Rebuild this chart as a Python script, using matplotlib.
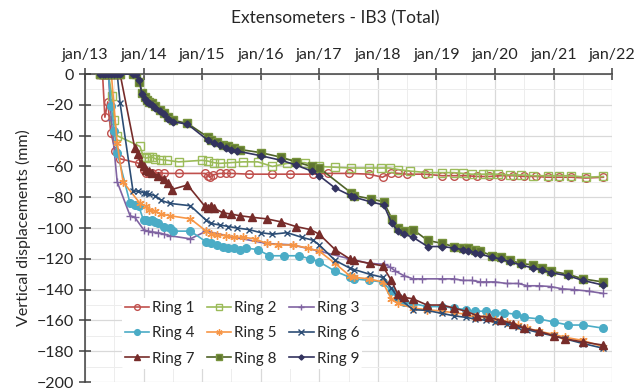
import matplotlib
matplotlib.use("Agg")
import matplotlib.pyplot as plt
from matplotlib.ticker import MultipleLocator, FixedLocator

plt.rcParams['font.family'] = ['Lato', 'DejaVu Sans']

Z8 = [2013.26, 2013.30, 2013.35, 2013.40, 2013.45, 2013.50, 2013.55, 2013.60]

# ---- data (decimal year, displacement mm) ----
r1_t = [2013.26, 2013.30, 2013.34, 2013.39, 2013.44, 2013.52, 2013.60, 2013.93, 2014.00, 2014.05, 2014.10, 2014.15,
        2014.25, 2014.35, 2014.60, 2015.05, 2015.10, 2015.13, 2015.18, 2015.30, 2015.40, 2015.50, 2015.80, 2016.20,
        2016.50, 2016.90, 2017.15, 2017.50, 2017.85, 2018.08, 2018.23, 2018.35, 2018.50, 2018.80, 2019.10, 2019.30,
        2019.50, 2019.70, 2019.90, 2020.10, 2020.30, 2020.50, 2020.70, 2020.90, 2021.10, 2021.30, 2021.55, 2021.85]
r1_v = [0, 0, -28, -18, -38, -50, -55, -58, -62, -64, -64, -64.5,
        -64, -64.5, -64.5, -64.5, -66, -67, -65.5, -64.5, -64.5, -64.5, -65, -65,
        -65, -65, -64.5, -64.5, -65, -67, -64, -64.5, -65, -65, -66, -66,
        -66, -66.5, -66.5, -66, -66, -66.5, -66.5, -67, -67, -67, -67.5, -67]

r2_t = [2013.26, 2013.30, 2013.35, 2013.40, 2013.46, 2013.50, 2013.55, 2013.94, 2014.00, 2014.05, 2014.10, 2014.15,
        2014.20, 2014.30, 2014.40, 2014.60, 2015.00, 2015.10, 2015.20, 2015.30, 2015.50, 2015.70, 2015.95, 2016.20,
        2016.45, 2016.75, 2017.00, 2017.27, 2017.55, 2017.85, 2018.05, 2018.20, 2018.35, 2018.55, 2018.85, 2019.10,
        2019.30, 2019.45, 2019.60, 2019.80, 2019.90, 2020.05, 2020.25, 2020.45, 2020.65, 2020.90, 2021.10, 2021.30,
        2021.55, 2021.85]
r2_v = [0, 0, 0, 0, -14, -30, -40, -47, -54, -54.5, -54, -54,
        -55, -55.5, -56, -57, -56, -56.5, -57.5, -58, -57.5, -57, -57, -60,
        -58, -57.5, -60, -60.5, -61, -61, -61, -61, -62, -63, -64, -64,
        -64, -64.5, -65, -65, -65, -65, -65.5, -65.5, -66, -66, -66, -66,
        -67, -66.5]

r3_t = [2013.26, 2013.30, 2013.35, 2013.40, 2013.45, 2013.55, 2013.77, 2013.85, 2014.00, 2014.07, 2014.15, 2014.25,
        2014.35, 2014.45, 2014.80, 2015.07, 2015.55, 2016.10, 2016.55, 2017.00, 2017.52, 2017.86, 2018.10, 2018.20,
        2018.30, 2018.45, 2018.60, 2018.75, 2019.10, 2019.30, 2019.45, 2019.60, 2019.75, 2019.85, 2020.00, 2020.20,
        2020.40, 2020.55, 2020.75, 2020.95, 2021.15, 2021.35, 2021.60, 2021.85]
r3_v = [0, 0, 0, 0, -30, -70, -92, -93, -101, -102, -102.5, -103,
        -104, -105, -107, -102, -106, -110, -111, -115, -120, -123, -123.5, -125,
        -128, -131, -133, -133, -133, -133, -134, -134, -135, -135, -135, -136,
        -136, -137.5, -137.5, -138, -139.5, -140, -141, -142.5]

r4_t = [2013.26, 2013.30, 2013.35, 2013.40, 2013.45, 2013.50, 2013.55, 2013.77, 2013.85, 2013.92, 2014.00, 2014.05,
        2014.10, 2014.15, 2014.20, 2014.25, 2014.35, 2014.45, 2014.50, 2014.80, 2015.07, 2015.15, 2015.25, 2015.35,
        2015.45, 2015.55, 2015.65, 2015.75, 2015.95, 2016.15, 2016.40, 2016.65, 2016.85, 2017.00, 2017.27, 2017.52,
        2017.60, 2017.85, 2018.08, 2018.23, 2018.34, 2018.45, 2018.60, 2018.84, 2019.10, 2019.30, 2019.50, 2019.65,
        2019.85, 2020.00, 2020.15, 2020.35, 2020.50, 2020.75, 2021.00, 2021.25, 2021.50, 2021.84]
r4_v = [0, 0, 0, 0, -21, -37, -51, -84, -85, -86, -95, -95,
        -95.5, -95, -96, -97, -99, -100, -102, -102, -109, -110, -111, -112,
        -113, -113, -114, -113, -114, -118, -118, -118, -120, -122, -128, -132,
        -133, -134, -135, -141, -146, -148, -149, -151, -151, -152, -153, -154,
        -154, -155, -155, -156, -158, -159, -161, -163, -163, -165]

r5_t = [2013.26, 2013.30, 2013.35, 2013.40, 2013.45, 2013.55, 2013.65, 2013.94, 2014.05, 2014.10, 2014.20, 2014.30,
        2014.45, 2014.80, 2015.07, 2015.15, 2015.25, 2015.40, 2015.55, 2015.70, 2015.90, 2016.10, 2016.30, 2016.55,
        2016.80, 2017.00, 2017.27, 2017.52, 2017.60, 2017.85, 2018.08, 2018.23, 2018.34, 2018.60, 2018.84, 2019.10,
        2019.30, 2019.50, 2019.65, 2019.85, 2020.00, 2020.20, 2020.40, 2020.55, 2020.75, 2021.00, 2021.20, 2021.50,
        2021.84]
r5_v = [0, 0, 0, 0, 0, -45, -70, -84, -86, -88, -89, -91,
        -92, -94, -102, -104, -104.5, -105, -106, -106, -107, -110, -111, -111,
        -113, -115, -123, -131, -132, -133, -135, -146, -149, -152, -153, -154,
        -155, -156, -158, -158, -160, -161, -163, -165, -167, -169, -171, -173,
        -177]

r6_t = [2013.26, 2013.30, 2013.35, 2013.40, 2013.45, 2013.50, 2013.55, 2013.60, 2013.82, 2013.90, 2014.00, 2014.05,
        2014.10, 2014.20, 2014.30, 2014.45, 2014.80, 2015.07, 2015.15, 2015.30, 2015.45, 2015.60, 2015.80, 2016.00,
        2016.20, 2016.45, 2016.70, 2016.90, 2017.00, 2017.27, 2017.52, 2017.60, 2017.86, 2018.08, 2018.23, 2018.34,
        2018.60, 2018.84, 2019.10, 2019.30, 2019.50, 2019.65, 2019.85, 2020.00, 2020.20, 2020.40, 2020.55, 2020.75,
        2021.00, 2021.20, 2021.50, 2021.84]
r6_v = [0, 0, 0, 0, 0, 0, 0, -19, -76, -76, -77, -77,
        -78, -79, -82, -84, -85.5, -95, -97, -98, -99, -100, -101, -103,
        -104, -103, -106, -108, -111, -121, -126, -127, -130, -132, -139, -145,
        -153, -153.5, -155.5, -157, -158, -159, -160, -161, -162, -164, -166, -168,
        -170, -172, -175, -178]

r7_t = [2013.26, 2013.30, 2013.35, 2013.40, 2013.45, 2013.50, 2013.55, 2013.60, 2013.85, 2013.90, 2013.95, 2014.00,
        2014.05, 2014.10, 2014.15, 2014.25, 2014.35, 2014.42, 2014.48, 2014.75, 2015.05, 2015.10, 2015.15, 2015.20,
        2015.35, 2015.50, 2015.65, 2015.85, 2016.10, 2016.35, 2016.60, 2016.85, 2017.00, 2017.27, 2017.52, 2017.60,
        2017.86, 2018.08, 2018.23, 2018.34, 2018.45, 2018.60, 2018.84, 2019.10, 2019.30, 2019.50, 2019.70, 2019.90,
        2020.10, 2020.30, 2020.50, 2020.75, 2021.00, 2021.20, 2021.50, 2021.84]
r7_v = [0, 0, 0, 0, 0, 0, 0, 0, -48, -52, -58, -60,
        -62, -63, -64, -66, -68, -71, -75, -72, -86, -87, -86, -87,
        -90, -91, -92, -93, -94, -96, -99, -101, -104, -114, -120, -121,
        -123, -124.5, -134, -143, -145, -146, -150, -150, -152, -154, -157, -158,
        -160, -162, -165, -167, -170, -172, -174, -176]

r8_t = Z8 + [2013.82, 2013.87, 2013.93, 2013.97, 2014.02, 2014.06, 2014.10, 2014.15, 2014.20, 2014.28, 2014.35, 2014.42,
        2014.50, 2014.75, 2015.10, 2015.15, 2015.25, 2015.35, 2015.45, 2015.55, 2015.65, 2016.00, 2016.35, 2016.60,
        2016.87, 2017.00, 2017.54, 2017.60, 2017.88, 2018.10, 2018.24, 2018.34, 2018.45, 2018.60, 2018.85, 2019.10,
        2019.30, 2019.45, 2019.54, 2019.65, 2019.75, 2019.95, 2020.10, 2020.25, 2020.45, 2020.65, 2020.80, 2020.95,
        2021.25, 2021.50, 2021.84]
r8_v = [0] * 8 + [0, 0, -5, -12, -15, -17, -18, -19, -21, -23, -25, -28,
        -30, -32, -41, -43, -44, -46, -47, -48, -49, -51, -54, -57,
        -60, -61, -77, -79, -81, -83, -94, -100, -102, -101, -108, -110,
        -112, -113, -113, -114, -115, -118, -119, -121, -123, -124, -126, -128,
        -130, -133, -135]

r9_t = Z8 + [2013.82, 2013.87, 2013.93, 2013.97, 2014.02, 2014.06, 2014.10, 2014.15, 2014.20, 2014.28, 2014.35, 2014.42,
        2014.50, 2014.75, 2015.10, 2015.20, 2015.30, 2015.40, 2015.50, 2015.60, 2016.00, 2016.35, 2016.60, 2016.87,
        2017.00, 2017.27, 2017.54, 2017.60, 2017.88, 2018.10, 2018.24, 2018.34, 2018.45, 2018.60, 2018.85, 2019.10,
        2019.30, 2019.45, 2019.54, 2019.65, 2019.75, 2019.95, 2020.10, 2020.25, 2020.45, 2020.65, 2020.80, 2020.95,
        2021.25, 2021.50, 2021.84]
r9_v = [0] * 8 + [0, 0, -4, -13, -16, -18, -19, -20, -22, -24, -26, -29,
        -31, -32.5, -43, -45, -46, -48, -49, -50, -53, -56, -59, -63,
        -66, -74, -79, -80, -83, -85, -97, -102, -104, -106, -112, -112,
        -113, -114, -115, -116, -117, -119, -120, -122, -124, -126, -127, -129,
        -131, -134, -137]

series = [
    ("Ring 1", r1_t, r1_v, dict(color="#C0504D", marker="o", mfc="none", mec="#C0504D", ms=5.5)),
    ("Ring 2", r2_t, r2_v, dict(color="#9BBB59", marker="s", mfc="none", mec="#9BBB59", ms=5.5)),
    ("Ring 3", r3_t, r3_v, dict(color="#8064A2", marker="+", ms=6, mew=1)),
    ("Ring 4", r4_t, r4_v, dict(color="#4BACC6", marker="o", mfc="#4BACC6", ms=5.5)),
    ("Ring 5", r5_t, r5_v, dict(color="#F79646", marker=(6, 2, 0), ms=6, mew=1)),
    ("Ring 6", r6_t, r6_v, dict(color="#2C4D75", marker="x", ms=5, mew=1)),
    ("Ring 7", r7_t, r7_v, dict(color="#772C2A", marker="^", mfc="#772C2A", ms=5.5)),
    ("Ring 8", r8_t, r8_v, dict(color="#4F6228", marker="s", mfc="#5F7530", mec="#77933C", ms=5.5)),
    ("Ring 9", r9_t, r9_v, dict(color="#33335F", marker="D", mfc="#33335F", ms=3.5)),
]

year_ticks = list(range(2013, 2023))
year_labels = ["jan/13", "jan/14", "jan/15", "jan/16", "jan/17", "jan/18", "jan/19", "jan/20", "jan/21", "jan/22"]

fig = plt.figure(figsize=(6.37, 3.90), dpi=100)
ax = fig.add_axes([0.1334, 0.0205, 0.961 - 0.1334, 0.810 - 0.0205])

handles = []
for name, t, v, st in series:
    h, = ax.plot(t, v, lw=1.2, label=name, zorder=3, **st)
    handles.append(h)

ax.set_xlim(2013, 2022)
ax.set_ylim(-200, 0)
ax.xaxis.set_major_locator(FixedLocator(year_ticks))
ax.set_xticklabels(year_labels)
ax.xaxis.set_minor_locator(MultipleLocator(0.5))
ax.yaxis.set_major_locator(MultipleLocator(20))
ax.yaxis.set_minor_locator(MultipleLocator(10))

ax.grid(which="major", color="#D9D9D9", lw=0.9, zorder=0)
ax.grid(which="minor", color="#EDEDED", lw=0.7, zorder=0)
ax.set_axisbelow(True)

for s in ["right", "bottom"]:
    ax.spines[s].set_visible(False)
for s in ["top", "left"]:
    ax.spines[s].set_color("#404040")
    ax.spines[s].set_linewidth(1.1)

ax.xaxis.tick_top()
ax.tick_params(axis="x", which="major", direction="inout", length=9, width=1.1, color="#404040",
               labelsize=11.5, pad=4, labelcolor="#262626")
ax.tick_params(axis="x", which="minor", length=0)
ax.tick_params(axis="y", which="major", direction="inout", length=9, width=1.1, color="#404040",
               labelsize=11.5, labelcolor="#262626")
ax.tick_params(axis="y", which="minor", length=0)

ax.set_ylabel("Vertical displacements (mm)", fontsize=11.5, color="#262626", labelpad=4)

fig.text(0.526, 0.952, "Extensometers - IB3 (Total)", ha="center", va="center", fontsize=12.5, color="#262626")

# row-major legend order (matplotlib fills columns first)
order = [0, 3, 6, 1, 4, 7, 2, 5, 8]
leg = ax.legend([handles[i] for i in order], [series[i][0] for i in order],
                loc="lower left", bbox_to_anchor=(0.055, 0.018), ncol=3, fontsize=11, frameon=True,
                facecolor="white", edgecolor="none", framealpha=1, handlelength=1.6, handletextpad=0.2,
                columnspacing=0.8, labelspacing=0.75, borderpad=0.2, markerscale=0.75)
for txt in leg.get_texts():
    txt.set_color("#262626")

fig.savefig("out.png", dpi=100)
